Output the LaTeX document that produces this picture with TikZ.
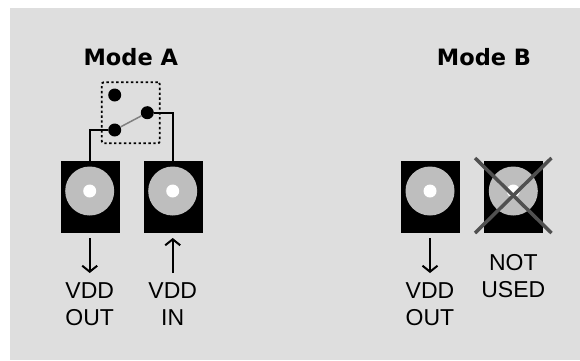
\documentclass[tikz,border=0pt]{standalone}
\usepackage{fontspec}
\setmainfont{Liberation Sans}
\newfontfamily\titlefont{DejaVu Sans}
\definecolor{panelgray}{HTML}{DEDEDE}
\definecolor{discgray}{HTML}{BEBEBE}
\definecolor{crossgray}{HTML}{505050}
\tikzset{
  jackbody/.style={draw=black,fill=black,minimum width=58pt,minimum height=71pt,inner sep=0pt,outer sep=0pt},
  jackdisc/.style={circle,fill=discgray,minimum size=49pt,inner sep=0pt},
  jackhole/.style={circle,fill=white,minimum size=13pt,inner sep=0pt},
  contact/.style={circle,fill=black,minimum size=13pt,inner sep=0pt},
  wire/.style={line width=2pt},
  flow/.style={line width=2pt,-{Straight Barb[length=6pt,width=15pt,line width=2pt]}},
  caption/.style={font=\fontsize{23}{27.6}\selectfont,align=center},
  heading/.style={font=\titlefont\bfseries\fontsize{22.5}{26}\selectfont},
}
\usetikzlibrary{arrows.meta}
\begin{document}
\begin{tikzpicture}[x=1pt,y=-1pt]
\useasboundingbox (0,0) rectangle (580,360);
\fill[panelgray] (10,8) rectangle (580,360);

\node[heading] (modeA) at (130.8,57) {Mode A};
\node[heading] (modeB) at (484,57) {Mode B};

% switch
\node[draw,line width=1.8pt,dash pattern=on 2.4pt off 2.5pt,rounded corners=2pt,
      minimum width=58pt,minimum height=61pt,inner sep=0pt] (box) at (130.8,112.8) {};
\node[contact] (swT) at (114.7,95) {};
\node[contact] (swB) at (114.7,130) {};
\node[contact] (swR) at (147.3,112.7) {};
\draw[draw=gray,line width=1.5pt] (swB) -- (swR);

% mode A jacks
\node[jackbody] (jackOut) at (89.7,197) {};
\node[jackdisc] (discOut) at (89.7,191) {};
\node[jackhole] (holeOut) at (89.7,191) {};
\node[jackbody] (jackIn) at (172.7,197) {};
\node[jackdisc] (discIn) at (172.7,191) {};
\node[jackhole] (holeIn) at (172.7,191) {};
\draw[wire] (swB) -| (jackOut.north);
\draw[wire] (swR) -| (jackIn.north);

\node[caption] (capOut) at (89.7,304) {VDD\\OUT};
\node[caption] (capIn) at (172.7,304) {VDD\\IN};
\coordinate (arrOutA) at (89.7,238);
\coordinate (arrOutB) at (89.7,273);
\coordinate (arrInA) at (172.7,238);
\coordinate (arrInB) at (172.7,273);
\draw[flow] (arrOutA) -- (arrOutB);
\draw[flow] (arrInB) -- (arrInA);

% mode B jacks
\begin{scope}[shift={(340.3,0)}]
\node[jackbody] (jackOutB) at (89.7,197) {};
\node[jackdisc] (discOutB) at (89.7,191) {};
\node[jackhole] (holeOutB) at (89.7,191) {};
\node[caption] (capOutB) at (89.7,304) {VDD\\OUT};
\coordinate (arrBA) at (89.7,238);
\coordinate (arrBB) at (89.7,273);
\draw[flow] (arrBA) -- (arrBB);
\end{scope}

\node[jackbody] (jackNot) at (513.3,197) {};
\node[jackdisc] (discNot) at (513.3,191) {};
\node[jackhole] (holeNot) at (513.3,191) {};
\node[caption] (capNot) at (513.3,276) {NOT\\USED};
\coordinate (crossA) at (475,158);
\coordinate (crossB) at (551.5,233);
\coordinate (crossC) at (551.5,158);
\coordinate (crossD) at (475,233);
\draw[crossgray,line width=3.5pt] (crossA) -- (crossB);
\draw[crossgray,line width=3.5pt] (crossC) -- (crossD);

\end{tikzpicture}
\end{document}
